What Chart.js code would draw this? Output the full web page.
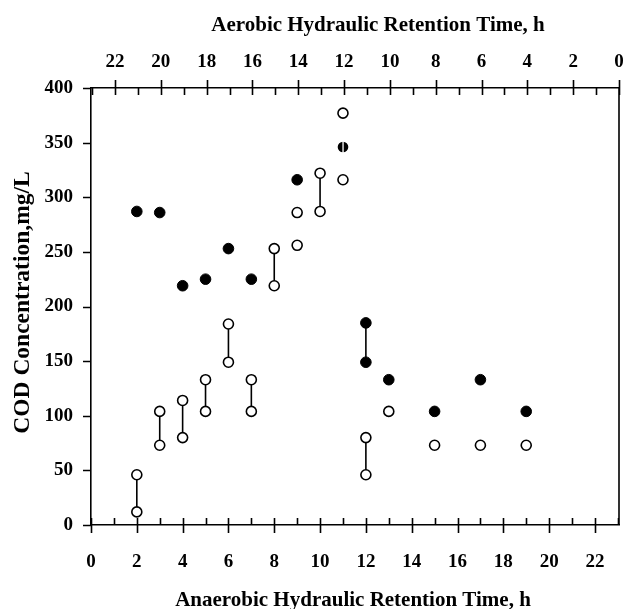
<!DOCTYPE html>
<html>
<head>
<meta charset="utf-8">
<script src="https://cdn.jsdelivr.net/npm/chart.js@4.4.1/dist/chart.umd.min.js"></script>
<style>
    body { margin: 0; background: #fff; }
    #wrap { width: 626px; height: 609px; }
</style>
</head>
<body>
<div id="wrap"><canvas id="cod-chart" width="626" height="609"></canvas></div>
<script>
// Anaerobic HRT (bottom axis) and COD values
const filledX = [2, 3, 4, 5, 6, 7, 9, 12, 12, 13, 15, 17, 19];
const filledCOD = [287, 286, 219, 225, 253, 225, 316, 185, 149, 133, 104, 133, 104];

const openX = [2, 2, 3, 3, 4, 4, 5, 5, 6, 6, 7, 7, 8, 8, 9, 9, 10, 10, 11, 11, 12, 12, 13, 15, 17, 19];
const openCOD = [46, 12, 104, 73, 114, 80, 133, 104, 184, 149, 133, 104, 253, 219, 286, 256, 322, 287, 377, 316, 80, 46, 104, 73, 73, 73];

const halfX = [11];
const halfCOD = [346];

// vertical bars joining pairs of measurements
const linkX = [2, 3, 4, 5, 6, 7, 8, 10, 12, 12];
const linkLow = [12, 73, 80, 104, 149, 104, 219, 287, 149, 46];
const linkHigh = [46, 104, 114, 133, 184, 133, 253, 322, 185, 80];

const hrtTicks = [0, 2, 4, 6, 8, 10, 12, 14, 16, 18, 20, 22];
const hrtMax = 23.05;
const codTicks = [0, 50, 100, 150, 200, 250, 300, 350, 400];

const SERIF = "'Liberation Serif', 'Times New Roman', serif";

function toPoints(xs, ys) {
    return xs.map((x, i) => ({ x: x, y: ys[i] }));
}

function linkData() {
    const out = [];
    linkX.forEach((x, i) => {
        out.push({ x: x, y: linkLow[i] });
        out.push({ x: x, y: linkHigh[i] });
        out.push({ x: x, y: null });
    });
    return out;
}

// black dot split by a thin white line
function halfMarker() {
    const c = document.createElement('canvas');
    c.width = 12; c.height = 12;
    const g = c.getContext('2d');
    g.fillStyle = '#000';
    g.beginPath();
    g.arc(6, 6, 5.3, 0, Math.PI * 2);
    g.fill();
    g.fillStyle = '#fff';
    g.fillRect(5.4, 0, 1.3, 12);
    return c;
}

function fixSize(size) {
    return function (scale) {
        if (scale.isHorizontal()) scale.height = size; else scale.width = size;
        scale.paddingLeft = 0; scale.paddingRight = 0;
        scale.paddingTop = 0; scale.paddingBottom = 0;
    };
}

function setTicks(values) {
    return function (scale) {
        scale.ticks = values.map(v => ({ value: v }));
    };
}

// Tick marks, right border and axis titles
const framePlugin = {
    id: 'frame',
    afterDraw(chart) {
        const ctx = chart.ctx;
        const area = chart.chartArea;
        const xs = chart.scales.x;
        const ys = chart.scales.y;
        const xt = chart.scales.x2;
        ctx.save();
        ctx.strokeStyle = '#000';
        ctx.lineWidth = 1.6;
        ctx.beginPath();
        ctx.moveTo(area.right, area.top);
        ctx.lineTo(area.right, area.bottom);
        for (let v = 0; v <= 23; v++) {
            const major = v % 2 === 0;
            const pb = Math.round(xs.getPixelForValue(v)) + 0.5;
            ctx.moveTo(pb, area.bottom - 7);
            ctx.lineTo(pb, area.bottom + (major ? 8 : 0));
            const pt = Math.round(xt.getPixelForValue(v)) + 0.5;
            ctx.moveTo(pt, area.top + 7);
            ctx.lineTo(pt, area.top - (major ? 8 : 0));
        }
        codTicks.forEach(v => {
            const py = Math.round(ys.getPixelForValue(v)) + 0.5;
            ctx.moveTo(area.left - 8, py);
            ctx.lineTo(area.left, py);
        });
        ctx.stroke();

        ctx.fillStyle = '#000';
        ctx.font = 'bold 21px ' + SERIF;
        ctx.textAlign = 'center';
        ctx.textBaseline = 'alphabetic';
        ctx.fillText('Aerobic Hydraulic Retention Time, h', 378, 30.5);
        ctx.fillText('Anaerobic Hydraulic Retention Time, h', 353, 605.5);
        ctx.font = 'bold 23.5px ' + SERIF;
        ctx.translate(28.5, 302.5);
        ctx.rotate(-Math.PI / 2);
        ctx.fillText('COD Concentration,mg/L', 0, 0);
        ctx.restore();
    }
};

const tickFont = { family: SERIF, size: 19, weight: 'bold' };

new Chart(document.getElementById('cod-chart').getContext('2d'), {
    type: 'scatter',
    data: {
        datasets: [
            {
                label: 'half',
                data: toPoints(halfX, halfCOD),
                pointStyle: halfMarker(),
                pointRadius: 6
            },
            {
                label: 'filled',
                data: toPoints(filledX, filledCOD),
                pointStyle: 'circle',
                pointRadius: 5.3,
                pointBackgroundColor: '#000',
                pointBorderColor: '#000',
                pointBorderWidth: 1
            },
            {
                label: 'open',
                data: toPoints(openX, openCOD),
                pointStyle: 'circle',
                pointRadius: 5,
                pointBackgroundColor: '#fff',
                pointBorderColor: '#000',
                pointBorderWidth: 1.6
            },
            {
                label: 'links',
                data: linkData(),
                showLine: true,
                spanGaps: false,
                pointRadius: 0,
                borderColor: '#000',
                borderWidth: 1.6
            }
        ]
    },
    options: {
        responsive: false,
        animation: false,
        devicePixelRatio: 1,
        layout: { padding: { left: 0, right: 6, top: 0, bottom: 0 } },
        plugins: {
            legend: { display: false },
            tooltip: { enabled: false }
        },
        scales: {
            x: {
                type: 'linear',
                position: 'bottom',
                min: 0,
                max: hrtMax,
                afterBuildTicks: setTicks(hrtTicks),
                afterFit: fixSize(84),
                grid: { display: false, drawTicks: false },
                border: { display: true, color: '#000', width: 1.6 },
                ticks: { color: '#000', font: tickFont, padding: 25.6, maxRotation: 0, autoSkip: false }
            },
            x2: {
                type: 'linear',
                position: 'top',
                reverse: true,
                min: 0,
                max: hrtMax,
                afterBuildTicks: setTicks(hrtTicks),
                afterFit: fixSize(88),
                grid: { display: false, drawTicks: false },
                border: { display: true, color: '#000', width: 1.6 },
                ticks: { color: '#000', font: tickFont, padding: 14.4, maxRotation: 0, autoSkip: false }
            },
            y: {
                type: 'linear',
                min: 0,
                max: 400,
                afterBuildTicks: setTicks(codTicks),
                afterFit: fixSize(91),
                grid: { display: false, drawTicks: false },
                border: { display: true, color: '#000', width: 1.6 },
                ticks: { color: '#000', font: tickFont, padding: 18 }
            }
        }
    },
    plugins: [framePlugin]
});
</script>
</body>
</html>
